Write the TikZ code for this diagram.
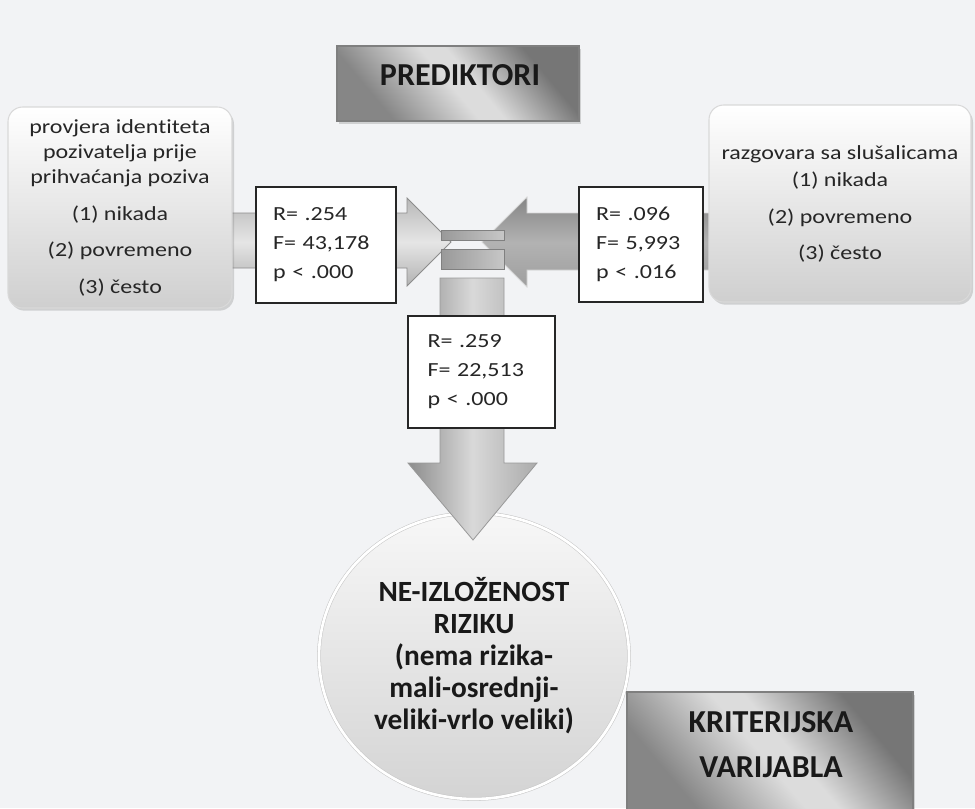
\documentclass[tikz,border=0pt]{standalone}
\usepackage{fontspec}
\setmainfont{Carlito}[Ligatures=NoCommon]
\newfontfamily\wide[FakeStretch=1.2,Ligatures=NoCommon]{Carlito}
\usetikzlibrary{shadows,shapes.geometric}
\definecolor{bg}{HTML}{F2F3F5}
\definecolor{txt}{HTML}{262626}
\definecolor{optbot}{HTML}{CFCFCF}
\definecolor{mdark}{HTML}{868686}
\definecolor{mlight}{HTML}{DCDCDC}
\definecolor{mdark2}{HTML}{767676}
\definecolor{medge}{HTML}{7F7F7F}
\pgfdeclarehorizontalshading{metal}{100bp}{color(0bp)=(mdark); color(28bp)=(mdark); color(48bp)=(mlight); color(54bp)=(mlight); color(72bp)=(mdark2); color(100bp)=(mdark2)}
\tikzset{
  optbox/.style={rounded corners=11pt, top color=white, bottom color=optbot,
    draw=white!85!black, line width=0.8pt,
    drop shadow={shadow xshift=1.5pt, shadow yshift=-2pt, opacity=0.3},
    align=center, inner sep=0pt, text=txt, font=\wide\fontsize{15}{18.75}\selectfont},
  statbox/.style={draw=black!85, fill=white, line width=0.9pt, align=left,
    inner ysep=0pt, inner xsep=12.75pt, text=txt,
    font=\wide\fontsize{15}{21.75}\selectfont},
  metalbox/.style={draw=medge, line width=0.9pt, shading=metal, shading angle=40,
    drop shadow={shadow xshift=1.5pt, shadow yshift=-2pt, opacity=0.3}, inner sep=0pt},
  headtext/.style={font=\bfseries\fontsize{24}{33.75}\selectfont, align=center, text=black!90},
  blockarrow/.style={line width=0.6pt},
  barstyle/.style={left color=black!40, right color=black!22, draw=black!50, line width=0.6pt},
}
\begin{document}
\begin{tikzpicture}[x=0.75pt,y=-0.75pt]
\fill[bg] (0,0) rectangle (975,808);
\useasboundingbox (0,0) rectangle (975,808);

% criterion ellipse
\node[ellipse, minimum width=232.5pt, minimum height=214.5pt, inner sep=0pt,
  top color=black!3, bottom color=black!17, draw=black!22, double=white, double distance=2pt,
  align=center, text=black!90, font=\bfseries\fontsize{22}{24}\selectfont]
  (crit) at (474,656) {NE-IZLOŽENOST\\RIZIKU\\(nema rizika-\\mali-osrednji-\\veliki-vrlo veliki)};

% left block arrow
\draw[blockarrow, draw=black!45, top color=black!28, bottom color=black!30, middle color=black!10]
  (225,213) -- (407,213) -- (407,198) -- (451,242) -- (407,286) -- (407,268) -- (225,268) -- cycle;
% right block arrow
\draw[blockarrow, draw=white!60!black!40, top color=black!48, bottom color=black!38, middle color=black!30]
  (715,213) -- (527,213) -- (527,197) -- (482,242) -- (527,287) -- (527,270) -- (715,270) -- cycle;
% bars
\draw[barstyle] (441,230) rectangle (504,240);
\draw[barstyle] (441,249) rectangle (504,269);
% down block arrow
\draw[blockarrow, draw=black!40, left color=black!45, right color=black!33, middle color=black!15]
  (440,278) -- (504,278) -- (504,463) -- (537,463) -- (473,540) -- (408,463) -- (440,463) -- cycle;

% criterion label box
\node[metalbox, minimum width=214.5pt, minimum height=90pt] (kbox) at (770,752) {};
\node[headtext] (ktext) at ([xshift=0.75pt, yshift=5.6pt]kbox.center) {KRITERIJSKA\\VARIJABLA};

% predictor boxes
\node[optbox, minimum width=168pt, minimum height=150.75pt] (pleft) at (120,207.5)
  {\raisebox{-2pt}{\parbox{160pt}{\centering provjera identiteta\\pozivatelja prije\\prihvaćanja poziva\\[9pt](1) nikada\\[8.25pt](2) povremeno\\[9pt](3) često}}};
\node[optbox, minimum width=196.5pt, minimum height=147.75pt] (pright) at (840,203.5)
  {razgovara sa slušalicama\\[1.5pt](1) nikada\\[9pt](2) povremeno\\[8.25pt](3) često};

% statistics boxes
\node[statbox, text width=79.5pt, minimum height=87pt] (sleft) at (326,245)
  {R= .254\\F= 43,178\\p < .000};
\node[statbox, text width=67.5pt, minimum height=86.25pt] (sright) at (641,244.5)
  {R= .096\\F= 5,993\\p < .016};
\node[statbox, text width=81pt, inner xsep=14.6pt, minimum height=84pt] (scenter) at (481.5,372)
  {R= .259\\F= 22,513\\p < .000};

% predictors title
\node[metalbox, minimum width=181.5pt, minimum height=56.25pt] (pbox) at (458,83.5) {};
\node[headtext] (ptext) at ([xshift=1.5pt, yshift=6.4pt]pbox.center) {PREDIKTORI};
\end{tikzpicture}
\end{document}
